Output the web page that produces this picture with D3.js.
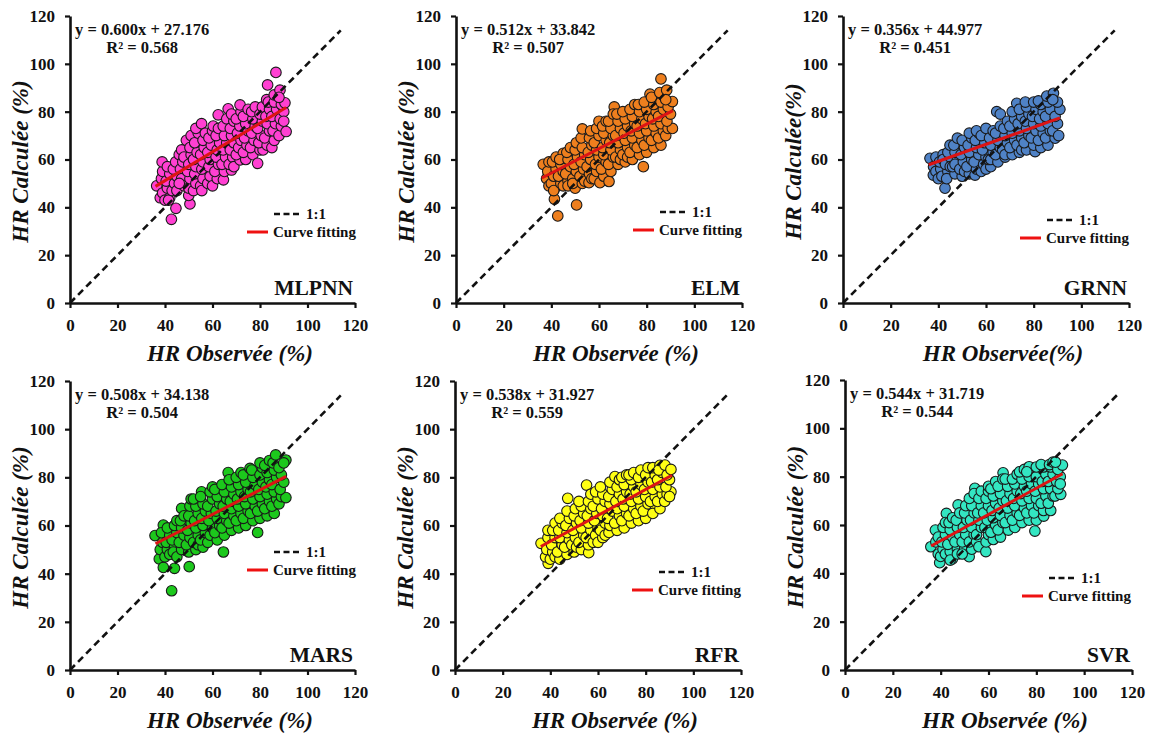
<!DOCTYPE html>
<html><head><meta charset="utf-8">
<script src="https://cdn.jsdelivr.net/npm/d3@7"></script>
<style>
body{margin:0;background:#fff}
svg{display:block}
text{font-family:"Liberation Serif","Times New Roman",serif;font-weight:bold;fill:#111}
</style>
</head><body>
<svg id="c" width="1150" height="738"></svg>
<script>
// ---------------- DATA ----------------
const models = ["MLPNN","ELM","GRNN","MARS","RFR","SVR"];
const slopes = [0.600,0.512,0.356,0.508,0.538,0.544];
const intercepts = [27.176,33.842,44.977,34.138,31.927,31.719];
const r2Values = [0.568,0.507,0.451,0.504,0.559,0.544];
const xTicks = [0,20,40,60,80,100,120];
const yTicks = [0,20,40,60,80,100,120];
const oneToOne = [0,114];
const fitRange = [36,91];
const legendLabels = ["1:1","Curve fitting"];
const xTitles = ["HR Observée (%)","HR Observée (%)","HR Observée(%)","HR Observée (%)","HR Observée (%)","HR Observée (%)"];
const yTitles = ["HR Calculée (%)","HR Calculée (%)","HR Calculée(%)","HR Calculée (%)","HR Calculée (%)","HR Calculée (%)"];

const mlpnnPts = [
[36.5,49],[38,44],[39,46],[38.5,52],[39,55],[38.8,59],
[40,43],[41,48],[40.5,51],[42,54],[41,57],[42,44],[41.5,43],[42.7,35],
[44.6,39.6],[43,47],[44,50],[45,53],[43.5,56],[44.5,59],[45,47],[46,62],
[47,64],[46.5,56],[47,52],[48,49],[47.5,59],[48,61],[46,50],
[50.5,41.4],[49,68],[50,45],[50,48],[50.5,52],[49.5,55],[50,58],[51,62],[50.5,65],[51,70],
[52,47],[53,50],[52.5,54],[53,57],[52,60],[53.5,63],[52.5,67],[54,71],[53,73],
[55.4,75],[55,49],[56,52],[55.5,56],[56,59],[55,62],[56.5,65],[56,68],[57,71],[55.5,47],
[58,50],[59,53],[58.5,57],[59,60],[58,63],[59.5,66],[58.5,69],[60,72],[60.3,74],[60,49],
[62,52],[61,55],[62.5,58],[61.5,61],[62,64],[63,67],[61.5,70],[62.5,73],[62.4,78.7],
[64.6,51.5],[65,55],[64,58],[65.5,61],[64.5,64],[66,67],[65,70],[64.5,74],[66,77],[66.6,81.2],
[68,55.6],[67,58],[68.5,61],[67.5,64],[69,67],[68,70],[67.5,73],[69,76],[68,79],[69,57],
[71.6,59.8],[70,62],[71,65],[72,68],[70.5,71],[71.5,74],[70,77],[72,80],[71.6,82.8],
[74,60],[73,63],[74.5,66],[73.5,69],[75,72],[74,75],[73,78],[75,81],
[77,62],[76,65],[77.5,68],[76.5,71],[78,74],[77,77],[76.5,80],[78,82],
[79,58.4],[80,64],[81.3,64],[79.5,67],[80.5,70],[79,73],[81,76],[80,79],[81,82],[82.8,85],
[83,66],[82,69],[84,72],[83,75],[82.5,78],[84,81],[83.2,91.2],[83.5,84],
[85,65],[86,68],[85.5,72],[86.5,75],[85,78],[87,81],[86,84],[86.7,96.4],[86,87],
[88,70],[89,74],[88.5,77],[90,80],[89,83],[88.4,89],[90.5,83.7],[91,71.7],[90,76],[88,86]
];
const elmPts = [
[36.6,58],[38,52],[39,49],[38.5,55],[39,59],
[41.3,43.4],[42.7,36.4],[41.5,48],[40,50],[41,53],[42,56],[40.5,59],[42,61],[41,47],
[44,50],[43,53],[45,55],[44,58],[45,62.6],[43.5,60],[45,49],
[47,51],[46,54],[48,57],[47,60],[46.5,63],[48,65],[47,49],
[50.6,41],[50,48],[49,52],[50.5,55],[49.5,58],[51,61],[50,64],[50.5,67],[49,50],
[53,50],[52,53],[53.5,56],[52.5,59],[54,62],[53,65],[52.5,69],[53,72.8],[54,51],
[55.8,50.3],[56,54],[55,57],[56.5,60],[55.5,63],[57,66],[56,69],[56.5,72],[57,52],
[58,52],[59,55],[58.5,58],[60,61],[59,64],[58,67],[60,70],[59,73],[60.4,50.3],[60,76],
[62,53],[61,56],[63,59],[62,62],[61.5,65],[63,68],[62,71],[61.5,74],[63,76],
[64.2,50.8],[65,55],[64,58],[66,61],[65,64],[64.5,67],[66,70],[65,73],[64,76],[66.4,82],[66,79],
[68,58],[67,61],[69,64],[68,67],[67,70],[69,73],[68,76],[67.5,79],[69,60],
[71,59],[70,62],[72,65],[71,68],[70.5,71],[72,74],[71,77],[70,80],[72,61],
[74,60],[73,63],[75,66],[74,69],[73.5,72],[75,75],[74,78],[73,81],[75,83],
[77,62],[76,65],[78,68],[77,71],[76,74],[78,77],[77,80],[76.5,83],[78.6,57],
[80,63],[79,66],[81,69],[80,72],[79.5,75],[81,78],[80,81],[81.4,87.3],[79,84],
[83,65],[82,68],[84,71],[83,74],[82.5,77],[84,80],[83,83],[82,86],
[86,66],[85,69],[87,72],[86,75],[85,78],[87,81],[86,84],[85.5,88],[86,93.7],
[88,70],[89,73],[90.8,73],[88.5,76],[90,79],[89,82],[90.8,84.2],[88.4,89],[88,85]
];
const grnnPts = [
[36.5,60.5],[38,57],[37.9,53.5],[39,61],[39,55],
[40,52],[41,56],[40.5,59],[42,62],[42.8,48],[41.5,53],[42,60],
[44,55],[43,58],[45,61],[44,63],[43.5,52],[45,57],[44.9,66],
[47,54],[46,57],[48,60],[47,63],[46.5,66],[48,68.9],[47,58],
[50,53],[49,56],[50.5,59],[49.5,62],[51,65],[50,68],[51,55],
[53,54],[52,57],[54,60],[53,63],[52.5,66],[54,69],[53,71],
[55.4,53.5],[56,56],[55,59],[57,62],[56,65],[55.5,68],[57,71],[56,72],
[58,55],[59,58],[60,61],[58.5,64],[59.5,67],[58,70],[60,73],[60,56],
[62,57],[61,60],[63,63],[62,66],[61.5,69],[63,72],[62,60],
[64.5,80],[65,59],[64,62],[66,65],[65,68],[64,71],[66,74],[66,79],
[68,61],[67,64],[69,67],[68,70],[67.5,73],[69,76],[68,62],
[71,62],[70,65],[72,68],[71,71],[70,74],[72,77],[71,80],[72.9,83.5],
[74,63],[73,66],[75,69],[74,72],[73.5,75],[75,78],[74,81],[75,64],
[77,64],[76,67],[78,70],[77,73],[76.5,76],[78,79],[77,82],[76.5,84],
[80.6,63.3],[80,66],[79,69],[81,72],[80,75],[79.5,78],[81,81],[80,84],
[83,65],[82,68],[84,71],[83,74],[82.5,77],[84,80],[83,83],[82,84.5],
[86,66],[85,69],[87,72],[86,75],[85,78],[87,81],[86,84],[85.5,86.5],
[89,68.9],[88,72],[90,75],[89,78],[91,81],[88.3,87.7],[90,84],[88,85],[90.5,70]
];
const marsPts = [
[35.8,55.8],[37.6,46.1],[39.3,42.6],[39.3,60.2],[38,50],[39,53],[38.5,57],
[42.8,32.9],[40,47],[41,50],[40.5,53],[42,56],[41,59],[42,48],
[44,42.2],[44,51],[43,54],[45,57],[44,60],[43.5,49],[45,62],[45,47],
[47,67.1],[47,50],[46,53],[48,56],[47,59],[46.5,62],[48,64],
[50.2,42.9],[50,49],[49,52],[50.5,55],[49.5,58],[51,61],[50,64],[50.5,68],[51,71],
[53,50],[52,53],[54,56],[53,59],[52.5,62],[54,65],[53,68],[52,71],[54,52],
[55.4,74],[56,51],[55,54],[57,57],[56,60],[55.5,63],[57,66],[56,69],[55,72],
[58,53],[59,56],[60,59],[58.5,62],[59.5,65],[58,68],[60,71],[59,74],[60,76],
[62,54],[61,57],[63,60],[62,63],[61.5,66],[63,69],[62,72],[61,75],
[64.6,49],[65,56],[64,59],[66,62],[65,65],[64.5,68],[66,71],[65,74],[64,77],[66.6,82],
[68,58],[67,61],[69,64],[68,67],[67.5,70],[69,73],[68,76],[67,79],
[71,59],[70,62],[72,65],[71,68],[70.5,71],[72,74],[71,77],[70,80],[72,82],
[74,60],[73,63],[75,66],[74,69],[73.5,72],[75,75],[74,78],[73,81],[75.8,83.7],
[77,62],[76,65],[78,68],[77,71],[76,74],[78,77],[77,80],[76.5,83],[79,57.1],
[80,63],[79,66],[81,69],[80,72],[79.5,75],[81,78],[80,81],[81,84],[80,86],
[83,64],[82,67],[84,70],[83,73],[82.5,76],[84,79],[83,82],[82,85],[84,87],
[86,65],[85,68],[87,71],[86,74],[85,77],[87,80],[86,83],[85.5,86],[86.6,89.3],
[88,69],[89,72],[90.9,71.6],[88.5,75],[90,78],[89,81],[88,84],[90.9,87.2],[90,86]
];
const rfrPts = [
[36.1,52.6],[39.1,44.3],[38,47],[38.5,50],[39,55],[39,58],
[40,46],[41,49],[40.5,52],[42,55],[41,58],[42,61],[42,47],
[44,46],[43,49],[45,52],[44,55],[43.5,58],[45,61],[44,63],
[47.3,71.3],[47,48],[46,51],[48,54],[47,57],[46.5,60],[48,63],[47,66],
[50,49],[49,52],[50.5,55],[49.5,58],[51,61],[50,64],[50.5,67],[51,51],
[53,50],[52,53],[54,56],[53,59],[52.5,62],[54,65],[53,68],[52,70],
[55.2,76.8],[56.1,48.7],[56,52],[55,55],[57,58],[56,61],[55.5,64],[57,67],[56,70],[57,73],
[58,53],[59,56],[60,59],[58.5,62],[59.5,65],[58,68],[60,71],[59,74],[60,53],
[62,55],[61,58],[63,61],[62,64],[61.5,67],[63,70],[62,73],[61,76],[63,56],
[64.6,57.1],[65,60],[64,63],[66,66],[65,69],[64.5,72],[66,75],[65,78],
[67.1,80.3],[68,58],[67,61],[69,64],[68,67],[67.5,70],[69,73],[68,76],[69,79],
[71,59],[70,62],[72,65],[71,68],[70.5,71],[72,74],[71,77],[70,80],[72,81],
[74,61],[73,64],[75,67],[74,70],[73.5,73],[75,76],[74,79],[73,81],[75,82],
[77,62],[76,65],[78,68],[77,71],[76,74],[78,77],[77,80],[78,83],
[80,63],[79,66],[81,69],[80,72],[79.5,75],[81,78],[80,81],[81,84],
[83.9,68.5],[83,65],[82,70],[84,72],[83,75],[82.5,78],[84,81],[83,84],
[86,67],[85,70],[87,73],[86,76],[85,79],[87,82],[86,85],[85.5,83],
[88,70],[89,73],[90.6,74],[88.5,76],[90,79],[89,81],[88.1,85.1],[90.6,83.3],[90,72]
];
const svrPts = [
[35.9,51],[39.6,44.4],[37.8,57.9],[38,53],[39,48],[39,55],
[42.4,64.8],[40,47],[41,50],[40.5,53],[42,56],[41,59],[42,61],[42,48],
[44.9,46],[44,49],[43,52],[45,55],[44,58],[43.5,61],[45,63],[44,45.5],
[47.3,68.3],[47,50],[46,53],[48,56],[47,59],[46.5,62],[48,65],[47,48],
[51.9,46.9],[50,50],[49,53],[50.5,56],[49.5,59],[51,62],[50,65],[50.5,68],[49,48],
[54.3,75.2],[53,50],[52,53],[54,56],[53,59],[52.5,62],[54,65],[53,68],[52,71],[54,73],
[55,53],[56,51],[55,56],[57,59],[56,62],[55.5,65],[57,68],[56,71],[57,74],
[58.9,49],[59,53],[60,56],[58.5,59],[59.5,62],[58,65],[60,68],[59,71],[60,74],[60,76],
[62,54],[61,57],[63,60],[62,63],[61.5,66],[63,69],[62,72],[61,75],[63,78],
[66.1,81.6],[65,55],[64,58],[66,61],[65,64],[64.5,67],[66,70],[65,73],[64,76],[66,79],
[68.3,57.9],[67,61],[69,64],[68,67],[67.5,70],[69,73],[68,76],[67,79],
[71,59],[70,62],[72,65],[71,68],[70.5,71],[72,74],[71,77],[70,79],[72,81],
[74,61],[73,64],[75,67],[74,70],[73.5,73],[75,76],[74,79],[73,82],[75,83],
[77,84.1],[77,62],[76,65],[78,68],[77,71],[76,74],[78,77],[77,80],[76,82],
[79.4,57.5],[80,62],[79,65],[81,68],[80,71],[79.5,74],[81,77],[80,80],[80,84],
[83.1,63.7],[83,66],[82,69],[84,72],[83,75],[82.5,78],[84,81],[83,84],[82,85],
[86,66],[85,69],[87,72],[86,75],[85,78],[87,81],[86,84],[85.5,85],[87,86],
[87.8,72],[90.2,72.7],[89,75],[88.5,78],[90,80],[89,83],[90.9,84.8],[88,86],[90,77]
];
const allPts = [mlpnnPts, elmPts, grnnPts, marsPts, rfrPts, svrPts];

// ---------------- STYLE / LAYOUT ----------------
const fills = ["#FF40D2","#EE7F1E","#4F82C6","#1CC81C","#FFFF14","#33E6C2"];
const layout = [
  {l:70, t:16, w:285, h:287, lg:198},
  {l:456,t:16, w:286, h:287, lg:196},
  {l:843,t:16, w:286, h:287, lg:204},
  {l:70, t:381,w:285, h:289, lg:171},
  {l:455,t:381,w:286, h:289, lg:191},
  {l:845,t:380,w:287, h:290, lg:198}
];

const svg = d3.select("#c");

models.forEach((m,i)=>{
  const L = layout[i];
  const g = svg.append("g").attr("transform",`translate(${L.l},${L.t})`);
  const x = d3.scaleLinear().domain([0,120]).range([0,L.w]);
  const y = d3.scaleLinear().domain([0,120]).range([L.h,0]);

  // axes
  const xa = g.append("g").attr("transform",`translate(0,${L.h})`)
    .call(d3.axisBottom(x).tickValues(xTicks).tickSize(5).tickSizeOuter(0).tickPadding(11));
  const ya = g.append("g")
    .call(d3.axisLeft(y).tickValues(yTicks).tickSize(5).tickSizeOuter(0).tickPadding(10));
  [xa,ya].forEach(a=>{
    a.select(".domain").attr("stroke","#111").attr("stroke-width",2.6);
    a.selectAll(".tick line").attr("stroke","#111").attr("stroke-width",2.2);
    a.selectAll(".tick text").style("font-size","17px").attr("fill","#111")
      .style("font-family","'Liberation Serif','Times New Roman',serif").style("font-weight","bold");
  });

  // points
  g.append("g").selectAll("circle").data(allPts[i]).join("circle")
    .attr("cx",d=>x(d[0])).attr("cy",d=>y(d[1])).attr("r",5.3)
    .attr("fill",fills[i]).attr("stroke","#1a1a1a").attr("stroke-width",1.1);

  // 1:1 line
  g.append("line")
    .attr("x1",x(oneToOne[0])).attr("y1",y(oneToOne[0]))
    .attr("x2",x(oneToOne[1])).attr("y2",y(oneToOne[1]))
    .attr("stroke","#111").attr("stroke-width",2.6).attr("stroke-dasharray","7,4.5");

  // fit line
  g.append("line")
    .attr("x1",x(fitRange[0])).attr("y1",y(slopes[i]*fitRange[0]+intercepts[i]))
    .attr("x2",x(fitRange[1])).attr("y2",y(slopes[i]*fitRange[1]+intercepts[i]))
    .attr("stroke","#DD1414").attr("stroke-width",3);

  // equation
  const eq = g.append("text").attr("x",5).attr("y",19).style("font-size","16.5px")
    .text(`y = ${slopes[i].toFixed(3)}x + ${intercepts[i].toFixed(3)}`);
  const ew = eq.node().getComputedTextLength();
  g.append("text").attr("x",5+ew/2).attr("y",37).attr("text-anchor","middle").style("font-size","16.5px")
    .text(`R² = ${r2Values[i].toFixed(3)}`);

  // legend
  const ly = L.lg;
  g.append("line").attr("x1",204).attr("x2",231).attr("y1",ly).attr("y2",ly)
    .attr("stroke","#111").attr("stroke-width",2.6).attr("stroke-dasharray","6,3.5");
  g.append("text").attr("x",236).attr("y",ly).attr("dy","0.35em").style("font-size","15px")
    .text(legendLabels[0]);
  g.append("line").attr("x1",177).attr("x2",198).attr("y1",ly+18).attr("y2",ly+18)
    .attr("stroke","#EE1111").attr("stroke-width",3);
  g.append("text").attr("x",203).attr("y",ly+18).attr("dy","0.35em").style("font-size","15px")
    .text(legendLabels[1]);

  // model label
  g.append("text").attr("x",L.w-2).attr("y",L.h-8).attr("text-anchor","end")
    .style("font-size","21.5px").text(m);

  // axis titles
  g.append("text").attr("x",160).attr("y",L.h+58).attr("text-anchor","middle")
    .style("font-size","23px").style("font-style","italic").text(xTitles[i]);
  g.append("text").attr("transform",`translate(-50,${L.h/2+2}) rotate(-90)`)
    .attr("text-anchor","middle").attr("dy","0.35em")
    .style("font-size","23px").style("font-style","italic").text(yTitles[i]);
});
</script>
</body></html>
